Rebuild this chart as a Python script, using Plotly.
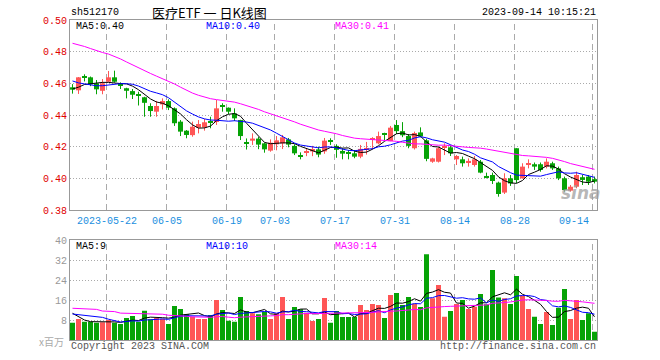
import plotly.graph_objects as go

# ---------------- data ----------------
dates = [
    "2023-05-12",
    "2023-05-15", "2023-05-16", "2023-05-17", "2023-05-18", "2023-05-19",
    "2023-05-22", "2023-05-23", "2023-05-24", "2023-05-25", "2023-05-26",
    "2023-05-29", "2023-05-30", "2023-05-31", "2023-06-01", "2023-06-02",
    "2023-06-05", "2023-06-06", "2023-06-07", "2023-06-08", "2023-06-09",
    "2023-06-12", "2023-06-13", "2023-06-14", "2023-06-15", "2023-06-16",
    "2023-06-19", "2023-06-20", "2023-06-21",
    "2023-06-26", "2023-06-27", "2023-06-28", "2023-06-29", "2023-06-30",
    "2023-07-03", "2023-07-04", "2023-07-05", "2023-07-06", "2023-07-07",
    "2023-07-10", "2023-07-11", "2023-07-12", "2023-07-13", "2023-07-14",
    "2023-07-17", "2023-07-18", "2023-07-19", "2023-07-20", "2023-07-21",
    "2023-07-24", "2023-07-25", "2023-07-26", "2023-07-27", "2023-07-28",
    "2023-07-31", "2023-08-01", "2023-08-02", "2023-08-03", "2023-08-04",
    "2023-08-07", "2023-08-08", "2023-08-09", "2023-08-10", "2023-08-11",
    "2023-08-14", "2023-08-15", "2023-08-16", "2023-08-17", "2023-08-18",
    "2023-08-21", "2023-08-22", "2023-08-23", "2023-08-24", "2023-08-25",
    "2023-08-28", "2023-08-29", "2023-08-30", "2023-08-31", "2023-09-01",
    "2023-09-04", "2023-09-05", "2023-09-06", "2023-09-07", "2023-09-08",
    "2023-09-11", "2023-09-12", "2023-09-13", "2023-09-14",
]

open_ = [0.4575, 0.4556, 0.4638, 0.4638, 0.4600, 0.4553, 0.4610, 0.4638, 0.4600, 0.4569,
         0.4551, 0.4528, 0.4512, 0.4457, 0.4421, 0.4467, 0.4488, 0.4442, 0.4358, 0.4301,
         0.4273, 0.4320, 0.4322, 0.4356, 0.4356, 0.4454, 0.4446, 0.4410, 0.4368, 0.4223,
         0.4238, 0.4251, 0.4221, 0.4175, 0.4215, 0.4221, 0.4246, 0.4205, 0.4142, 0.4163,
         0.4170, 0.4183, 0.4170, 0.4233, 0.4205, 0.4173, 0.4160, 0.4158, 0.4137, 0.4179,
         0.4244, 0.4221, 0.4278, 0.4235, 0.4337, 0.4298, 0.4267, 0.4190, 0.4290, 0.4240,
         0.4105, 0.4105, 0.4196, 0.4196, 0.4120, 0.4120, 0.4103, 0.4084, 0.4105, 0.4015,
         0.4021, 0.3973, 0.3910, 0.4000, 0.4190, 0.4000, 0.4086, 0.4089, 0.4089, 0.4074,
         0.4095, 0.4063, 0.4000, 0.3922, 0.3947, 0.4007, 0.4011, 0.3995]

high = [0.4595, 0.4640, 0.4657, 0.4643, 0.4621, 0.4627, 0.4678, 0.4680, 0.4606, 0.4572,
        0.4564, 0.4547, 0.4515, 0.4474, 0.4489, 0.4505, 0.4499, 0.4448, 0.4368, 0.4305,
        0.4358, 0.4368, 0.4375, 0.4389, 0.4495, 0.4474, 0.4448, 0.4442, 0.4370, 0.4252,
        0.4284, 0.4262, 0.4225, 0.4246, 0.4267, 0.4274, 0.4255, 0.4215, 0.4164, 0.4190,
        0.4205, 0.4200, 0.4255, 0.4253, 0.4215, 0.4190, 0.4179, 0.4179, 0.4211, 0.4230,
        0.4260, 0.4295, 0.4288, 0.4331, 0.4368, 0.4355, 0.4280, 0.4295, 0.4322, 0.4250,
        0.4130, 0.4200, 0.4221, 0.4211, 0.4147, 0.4137, 0.4126, 0.4141, 0.4116, 0.4036,
        0.4036, 0.3979, 0.4032, 0.4021, 0.4190, 0.4095, 0.4120, 0.4100, 0.4100, 0.4126,
        0.4105, 0.4074, 0.4011, 0.3958, 0.4042, 0.4021, 0.4021, 0.4011]

low = [0.4535, 0.4533, 0.4612, 0.4582, 0.4531, 0.4531, 0.4610, 0.4605, 0.4564, 0.4505,
       0.4501, 0.4460, 0.4389, 0.4389, 0.4389, 0.4435, 0.4431, 0.4331, 0.4267, 0.4253,
       0.4263, 0.4284, 0.4301, 0.4316, 0.4337, 0.4421, 0.4406, 0.4362, 0.4242, 0.4182,
       0.4211, 0.4184, 0.4162, 0.4168, 0.4177, 0.4185, 0.4196, 0.4147, 0.4120, 0.4140,
       0.4140, 0.4133, 0.4155, 0.4211, 0.4130, 0.4120, 0.4120, 0.4127, 0.4127, 0.4150,
       0.4183, 0.4215, 0.4242, 0.4235, 0.4280, 0.4260, 0.4190, 0.4182, 0.4259, 0.4108,
       0.4098, 0.4100, 0.4147, 0.4141, 0.4084, 0.4074, 0.4074, 0.4074, 0.4032, 0.4000,
       0.3964, 0.3884, 0.3901, 0.3952, 0.3970, 0.3998, 0.4063, 0.4053, 0.4042, 0.4063,
       0.4053, 0.3989, 0.3916, 0.3916, 0.3937, 0.3958, 0.3958, 0.3968]

close = [0.4560, 0.4638, 0.4636, 0.4594, 0.4562, 0.4600, 0.4638, 0.4610, 0.4583, 0.4553,
         0.4528, 0.4524, 0.4477, 0.4425, 0.4457, 0.4488, 0.4446, 0.4348, 0.4295, 0.4274,
         0.4326, 0.4343, 0.4354, 0.4353, 0.4442, 0.4452, 0.4421, 0.4379, 0.4267, 0.4221,
         0.4251, 0.4213, 0.4183, 0.4225, 0.4240, 0.4259, 0.4213, 0.4158, 0.4140, 0.4172,
         0.4185, 0.4150, 0.4238, 0.4230, 0.4180, 0.4156, 0.4157, 0.4137, 0.4186, 0.4192,
         0.4248, 0.4267, 0.4275, 0.4320, 0.4298, 0.4272, 0.4205, 0.4286, 0.4265, 0.4123,
         0.4126, 0.4190, 0.4200, 0.4158, 0.4141, 0.4095, 0.4107, 0.4120, 0.4036, 0.4005,
         0.3983, 0.3901, 0.4000, 0.3968, 0.3989, 0.4074, 0.4090, 0.4074, 0.4053, 0.4105,
         0.4063, 0.4000, 0.3926, 0.3947, 0.4021, 0.3990, 0.3979, 0.3979]

volume = [6.9, 8.4, 7.3, 7.3, 6.9, 7.1, 8.0, 6.9, 6.4, 8.8,
          9.6, 7.3, 11.7, 8.3, 8.8, 8.5, 6.4, 13.6, 12.4, 10.3,
          9.3, 8.4, 8.4, 10.0, 16.0, 12.0, 7.7, 7.3, 17.2, 11.6,
          10.7, 10.3, 11.3, 8.4, 10.7, 17.2, 8.4, 13.2, 12.3, 10.9,
          7.6, 8.4, 16.8, 6.9, 11.6, 9.2, 9.2, 9.2, 14.0, 12.0,
          14.4, 14.0, 8.8, 18.0, 18.8, 14.0, 17.2, 14.5, 13.2, 34.3,
          16.7, 22.0, 9.3, 11.6, 14.4, 16.0, 12.4, 13.3, 18.4, 14.3,
          28.0, 17.0, 16.7, 14.4, 25.6, 17.7, 12.4, 9.3, 6.4, 11.2,
          6.0, 12.9, 20.4, 8.4, 16.0, 8.0, 10.7, 3.3]

# sessions before the first visible day (only feed the moving averages)
hist_close = [0.492, 0.496, 0.499, 0.497, 0.494, 0.493,
              0.503, 0.509, 0.512, 0.510,
              0.505, 0.501, 0.498, 0.496, 0.494, 0.491,
              0.492, 0.490, 0.488, 0.484,
              0.476, 0.470, 0.465, 0.4624,
              0.4596,
              0.458, 0.455, 0.457, 0.456]
hist_volume = [10.5, 11.2, 10.8, 11.0, 27.0, 10.6, 10.9, 25.0, 11.3, 10.4,
               10.9, 11.0, 10.5, 10.8, 10.9,
               18.5, 16.0, 17.2, 15.8, 16.7,
               11.5, 9.8, 10.2, 9.5, 9.5,
               15.4, 13.8, 10.6, 6.8]

tick_dates = ["2023-05-22", "2023-06-05", "2023-06-19", "2023-07-03", "2023-07-17",
              "2023-07-31", "2023-08-14", "2023-08-28", "2023-09-14"]
tick_labels = ["2023-05-22", "06-05", "06-19", "07-03", "07-17",
               "07-31", "08-14", "08-28", "09-14"]
price_ticks = [0.38, 0.40, 0.42, 0.44, 0.46, 0.48, 0.50]
volume_ticks = [8, 16, 24, 32, 40]

symbol = "sh512170"
title = "医疗ETF 一 日K线图"
timestamp = "2023-09-14 10:15:21"

# ---------------- derived ----------------
n = len(close)
xs = list(range(n))


def sma(series, hist, w):
    full = list(hist) + list(series)
    off = len(hist)
    return [sum(full[off + i - w + 1: off + i + 1]) / w for i in range(len(series))]


ma5, ma10, ma30 = (sma(close, hist_close, w) for w in (5, 10, 30))
vma5, vma10, vma30 = (sma(volume, hist_volume, w) for w in (5, 10, 30))

RED = "#ff5656"
GREEN = "#06a306"
MONO = "Liberation Mono"
is_up = [c >= o for o, c in zip(open_, close)]

# pixel geometry of plot areas
W, H = 660, 360
L, R, T, B = 70, 597, 20, 340
STEP = 6.0
x0 = -2.5 / STEP
x1 = x0 + (R - L) / STEP


def pxx(p):
    return (p - L) / (R - L)


def pxy(p):
    return (B - p) / (B - T)


fig = go.Figure()

MIN_BODY = 0.0007
for up_flag, col in ((True, RED), (False, GREEN)):
    idx = [i for i in xs if is_up[i] == up_flag]
    wx, wy = [], []
    for i in idx:
        wx += [i, i, None]
        wy += [low[i], high[i], None]
    fig.add_trace(go.Scatter(x=wx, y=wy, mode="lines", line=dict(color=col, width=1),
                             xaxis="x", yaxis="y", hoverinfo="skip"))
    fig.add_trace(go.Bar(x=idx,
                         base=[min(open_[i], close[i]) for i in idx],
                         y=[max(abs(close[i] - open_[i]), MIN_BODY) for i in idx],
                         width=5 / STEP, marker=dict(color=col, line=dict(width=0)),
                         xaxis="x", yaxis="y", hoverinfo="skip"))
    fig.add_trace(go.Bar(x=idx, y=[volume[i] for i in idx], width=5 / STEP,
                         marker=dict(color=col, line=dict(width=0)),
                         xaxis="x2", yaxis="y2", hoverinfo="skip"))

for series, vseries, col in ((ma5, vma5, "#000000"), (ma10, vma10, "#0000ff"), (ma30, vma30, "#ff00ff")):
    fig.add_trace(go.Scatter(x=xs, y=series, mode="lines", line=dict(color=col, width=1),
                             xaxis="x", yaxis="y", hoverinfo="skip"))
    fig.add_trace(go.Scatter(x=xs, y=vseries, mode="lines", line=dict(color=col, width=1),
                             xaxis="x2", yaxis="y2", hoverinfo="skip"))

# vertical dashed grid lines at the date ticks
shapes = []
tick_idx = [dates.index(d) for d in tick_dates]
for ti in tick_idx:
    for xr, yr in (("x", "y domain"), ("x2", "y2 domain")):
        shapes.append(dict(type="line", xref=xr, yref=yr, x0=ti - 2 / STEP, x1=ti - 2 / STEP,
                           y0=0, y1=1, layer="below",
                           line=dict(color="#aaaaaa", width=1, dash="6px,4px")))

ann = []
for k, (ti, lab) in enumerate(zip(tick_idx, tick_labels)):
    last = k == len(tick_idx) - 1
    ann.append(dict(x=ti - 2 / STEP, xref="x", y=pxy(221.5), yref="paper", text=lab,
                    showarrow=False, xanchor="right" if last else "center", yanchor="middle",
                    xshift=-2 if last else 0,
                    font=dict(family=MONO, size=10, color="#1a8fe0")))


def label(text, xp, yp, color, anchor="left", size=10, family=MONO):
    ann.append(dict(x=pxx(xp), y=pxy(yp), xref="paper", yref="paper", text=text,
                    showarrow=False, xanchor=anchor, yanchor="middle",
                    font=dict(family=family, size=size, color=color)))


label(symbol, 69, 13, "#000000")
label(title, 209, 12.5, "#000000", anchor="center", size=13, family="Noto Sans CJK SC")
label(timestamp, 598, 13, "#000000", anchor="right")
label(f"MA5:{ma5[-1]:.2f}", 74, 26.5, "#000000")
label(f"MA10:{ma10[-1]:.2f}", 204, 26.5, "#0000ff")
label(f"MA30:{ma30[-1]:.2f}", 333, 26.5, "#ff00ff")
label(f"MA5:{int(vma5[-1])}", 74, 246.5, "#000000")
label(f"MA10:{int(vma10[-1])}", 204, 246.5, "#0000ff")
label(f"MA30:{int(vma30[-1])}", 333, 246.5, "#ff00ff")
label("x百万", 66, 341, "#aaaaaa", anchor="right", size=10, family="Noto Sans CJK SC")
label("Copyright 2023 SINA.COM", 69, 346.5, "#555555")
label("http://finance.sina.com.cn", 598, 346.5, "#555555", anchor="right")
label("<b><i>sina</i></b>", 581, 193, "rgba(160,160,160,0.75)", anchor="center", size=17,
      family="DejaVu Sans")

axis_common = dict(showline=True, mirror=True, linecolor="#999999", linewidth=1,
                   zeroline=False, ticks="", fixedrange=True, automargin=False)

fig.update_layout(
    width=W, height=H,
    margin=dict(l=L, r=W - R, t=T, b=H - B, pad=0, autoexpand=False),
    paper_bgcolor="white", plot_bgcolor="white",
    showlegend=False, hovermode=False, barmode="overlay",
    xaxis=dict(domain=[0, 1], range=[x0, x1], anchor="y", showticklabels=False,
               showgrid=False, **axis_common),
    yaxis=dict(domain=[(B - 210) / (B - T), 1], range=[0.38, 0.50], anchor="x",
               tickvals=price_ticks, ticktext=[f"{v:.2f}" for v in price_ticks],
               tickfont=dict(family=MONO, size=10, color="#e00000"),
               showgrid=True, gridcolor="#aaaaaa", griddash="1px,2px", gridwidth=1,
               **axis_common),
    xaxis2=dict(domain=[0, 1], range=[x0, x1], anchor="y2", showticklabels=False,
                showgrid=False, **axis_common),
    yaxis2=dict(domain=[0, (B - 240) / (B - T)], range=[0, 40], anchor="x2",
                tickvals=volume_ticks, ticktext=[str(v) for v in volume_ticks],
                tickfont=dict(family=MONO, size=10, color="#999999"),
                showgrid=True, gridcolor="#aaaaaa", griddash="1px,2px", gridwidth=1,
                **axis_common),
    shapes=shapes,
    annotations=ann,
)

fig.write_html("out.html", config={"displayModeBar": False},
               post_script="document.body.style.margin='0';document.body.style.overflow='hidden';")
